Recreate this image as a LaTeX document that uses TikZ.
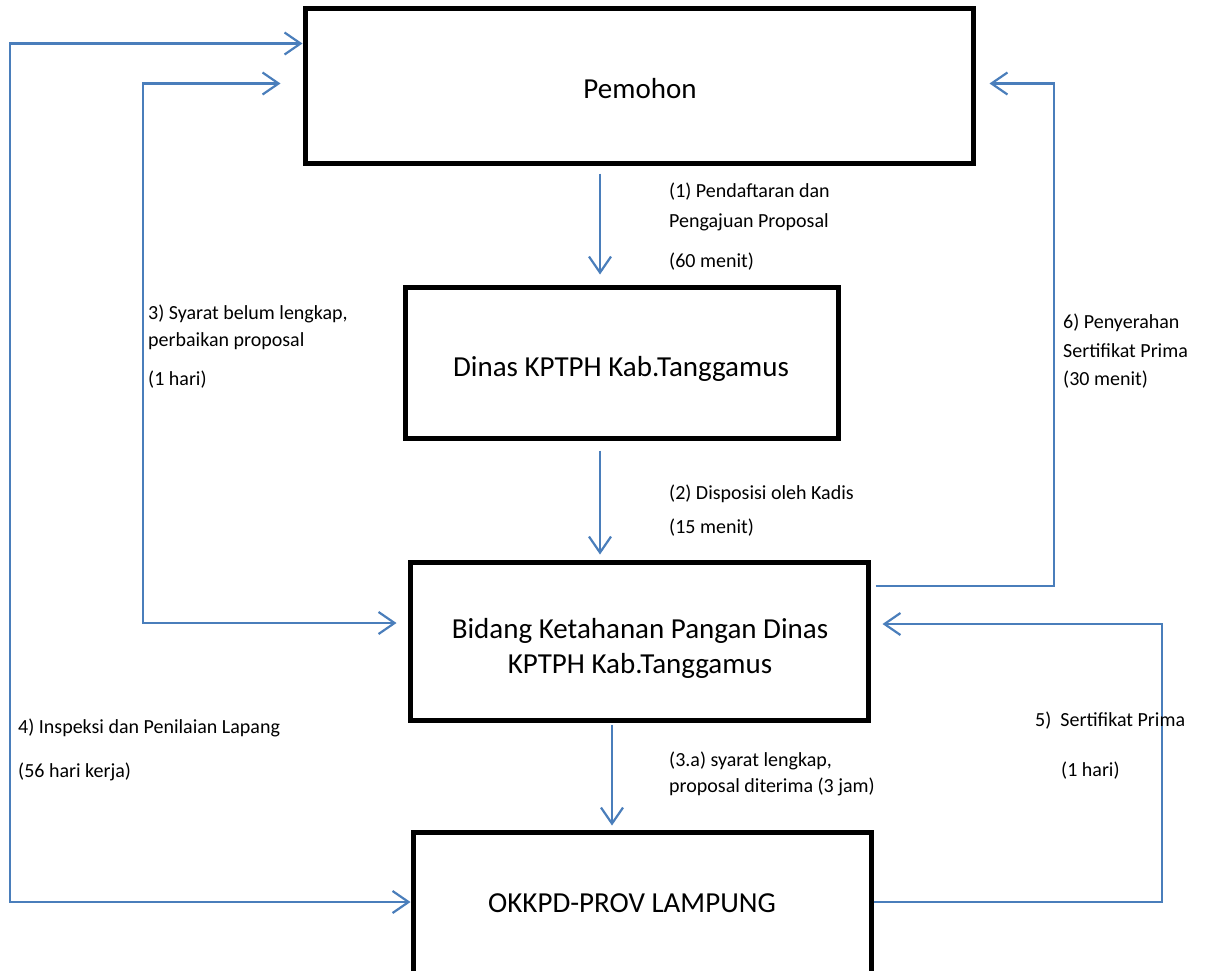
\documentclass[tikz,border=0pt]{standalone}
\usepackage{fontspec}
\setmainfont{Carlito}
\usetikzlibrary{arrows.meta}

\definecolor{flowblue}{RGB}{74,126,187}

\tikzset{
  box/.style={draw, line width=5pt, rectangle, inner sep=0pt},
  boxtext/.style={align=center, inner sep=0pt, font=\fontsize{29}{35}\selectfont},
  note/.style={anchor=base west, inner sep=0pt, font=\fontsize{20}{24}\selectfont},
  flow/.style={draw=flowblue, line width=2.2pt, -{Straight Barb[length=16pt,width=22pt]}},
  twoway/.style={flow, {Straight Barb[length=16pt,width=22pt]}-{Straight Barb[length=16pt,width=22pt]}}
}

\begin{document}
\begin{tikzpicture}[x=1pt, y=-1pt]
  \useasboundingbox (0,0) rectangle (1205,970);

  % the four offices
  \node[box, minimum width=668pt, minimum height=155pt] (pem) at (639,85.5) {};
  \node[box, minimum width=433pt, minimum height=151pt] (dinas) at (621.5,362.5) {};
  \node[box, minimum width=458pt, minimum height=158pt] (bid) at (639,641) {};
  \node[box, minimum width=458pt, minimum height=150pt] (okk) at (642,907) {};
  \node[boxtext] (pemtext) at (640,89) {Pemohon};
  \node[boxtext] (dinastext) at (621,369) {Dinas KPTPH Kab.Tanggamus};
  \node[boxtext] (bidtext) at (640,648) {Bidang Ketahanan Pangan Dinas\\KPTPH Kab.Tanggamus};
  \node[boxtext] (okktext) at (632,903) {OKKPD-PROV LAMPUNG};

  % straight down
  \draw[flow, shorten <=8pt, shorten >=10pt] (pem.south -| 600,0) -- (dinas.north -| 600,0);
  \draw[flow, shorten <=10pt, shorten >=5pt] (dinas.south -| 600,0) -- (bid.north -| 600,0);
  \draw[flow, shorten <=2pt, shorten >=4pt] (bid.south -| 612,0) -- (okk.north -| 612,0);

  % loops on the left
  \draw[twoway] ([yshift=42pt]pem.west) -| (10,500) |- ([yshift=5pt]okk.west);
  \draw[twoway, shorten <=22pt, shorten >=11pt] ([yshift=2pt]pem.west) -| (143,400) |- ([yshift=18pt]bid.west);

  % loops on the right
  \draw[flow, shorten <=5pt, shorten >=14pt] ([yshift=55pt]bid.east) -| (1054,300) |- ([yshift=2pt]pem.east);
  \draw[flow, shorten >=12pt] ([yshift=5pt]okk.east) -| (1162,800) |- ([yshift=17pt]bid.east);

  % labels
  \node[note] (l1a) at (669,197) {(1) Pendaftaran dan};
  \node[note] (l1b) at (669,227) {Pengajuan Proposal};
  \node[note] (l1c) at (669,267) {(60 menit)};
  \node[note] (l2a) at (669,499) {(2) Disposisi oleh Kadis};
  \node[note] (l2b) at (669,533) {(15 menit)};
  \node[note] (l3a) at (669,766) {(3.a) syarat lengkap,};
  \node[note] (l3b) at (669,792) {proposal diterima (3 jam)};
  \node[note] (l4a) at (148,319) {3) Syarat belum lengkap,};
  \node[note] (l4b) at (148,346) {perbaikan proposal};
  \node[note] (l4c) at (148,385) {(1 hari)};
  \node[note] (l5a) at (1063,328) {6) Penyerahan};
  \node[note] (l5b) at (1063,357) {Sertifikat Prima};
  \node[note] (l5c) at (1063,385) {(30 menit)};
  \node[note] (l6a) at (18,733) {4) Inspeksi dan Penilaian Lapang};
  \node[note] (l6b) at (18,777) {(56 hari kerja)};
  \node[note] (l7a) at (1035,726) {5)~~Sertifikat Prima};
  \node[note] (l7b) at (1061,776) {(1 hari)};
\end{tikzpicture}
\end{document}
